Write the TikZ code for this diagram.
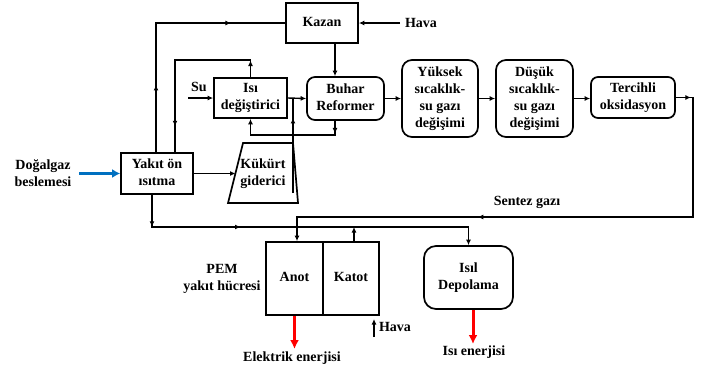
\documentclass[tikz,border=0pt]{standalone}
\usepackage{fontspec}
\setmainfont{Liberation Serif}
\usetikzlibrary{arrows.meta,decorations.markings,calc}
% stacked, centred lines of a label, lowered a little onto the optical centre
\newcommand\cellstack[1]{\raisebox{-2.7pt}{\begin{tabular}{@{}c@{}}#1\end{tabular}}}
\begin{document}
\begin{tikzpicture}[x=1pt,y=-1pt,
  >={Latex[length=5.5pt,width=5pt]},
  txt/.style={font=\bfseries\fontsize{14}{17}\selectfont, align=center, inner sep=0pt},
  box/.style 2 args={txt, draw, line width=1.7pt, minimum width=#1, minimum height=#2},
  rbox/.style n args={3}{box={#1}{#2}, rounded corners=#3},
  ln/.style={line width=1.4pt},
  flow/.style={ln, ->},
  mk/.style={postaction={decorate}, decoration={markings, mark=at position #1 with {\arrow{>}}}},
  mkk/.style 2 args={postaction={decorate}, decoration={markings,
      mark=at position #1 with {\arrow{>}}, mark=at position #2 with {\arrow{>}}}},
  feed/.style={line width=3pt, draw={rgb,255:red,0;green,112;blue,192},
      -{Latex[length=8pt,width=9pt]}},
  energy/.style={line width=3pt, draw=red, -{Latex[length=9pt,width=9pt]}},
]
\useasboundingbox (0,0) rectangle (713,376);

% --- process units ---
\node[box={72}{40}] (kazan) at (322,23) {\cellstack{Kazan}};
\node[box={73}{40}] (isi) at (250.5,98) {\cellstack{Isı\\değiştirici}};
\node[rbox={77}{43}{8pt}] (buhar) at (345.5,98.5) {\cellstack{Buhar\\Reformer}};
\node[rbox={76}{77}{10pt}] (yuksek) at (440,98.5) {\cellstack{Yüksek\\sıcaklık-\\su gazı\\değişimi}};
\node[rbox={77}{77}{10pt}] (dusuk) at (534.5,98.5) {\cellstack{Düşük\\sıcaklık-\\su gazı\\değişimi}};
\node[rbox={84}{41}{7pt}] (terc) at (633,97.5) {\cellstack{Tercihli\\oksidasyon}};
\node[box={72}{41}] (yakit) at (157,173.5) {\cellstack{Yakıt ön\\ısıtma}};
\draw[line width=1.7pt] (243,143) -- (293,143) -- (298,203) -- (228,203) -- cycle;
\node[txt] (kuk) at (263,173.5) {\cellstack{Kükürt\\giderici}};
\node[box={57}{73}] (anot) at (294.5,278.5) {\cellstack{Anot}};
\node[box={56}{73}] (katot) at (351,278.5) {\cellstack{Katot}};
\node[rbox={89}{63}{12pt}] (isil) at (468.5,277.5) {\cellstack{Isıl\\Depolama}};

% --- labels ---
\node[txt] (dogal) at (43,174.5) {\cellstack{Doğalgaz\\beslemesi}};
\node[txt] (su) at (199,88) {\cellstack{Su}};
\node[txt] (hava1) at (421,24) {\cellstack{Hava}};
\node[txt] (hava2) at (395,328) {\cellstack{Hava}};
\node[txt] (sentez) at (527,202) {\cellstack{Sentez gazı}};
\node[txt] (pem) at (222,278.5) {\cellstack{PEM\\yakıt hücresi}};
\node[txt] (elek) at (292,358) {\cellstack{Elektrik enerjisi}};
\node[txt] (isien) at (474,352) {\cellstack{Isı enerjisi}};

% --- helper points ---
\coordinate (hv0) at (400,23);
\coordinate (kzout) at ([xshift=13pt]kazan.south);
\coordinate (yk1) at ([xshift=-1pt]yakit.north);
\coordinate (lpA) at (175,60);
\coordinate (su0) at (188,98);
\coordinate (kukout) at (293,193);
\coordinate (bfout) at ([xshift=-10.5pt]buhar.south);
\coordinate (lpB) at (335,135);
\coordinate (kukin) at (235.5,173.5);
\coordinate (dg0) at (79,173.5);
\coordinate (yk2) at ([xshift=-5pt]yakit.south);
\coordinate (lpC) at (152,227);
\coordinate (kt1) at ([xshift=3pt]katot.north);
\coordinate (sg1) at (693,97.5);
\coordinate (sg2) at (693,217);
\coordinate (sg3) at (297,217);
\coordinate (el0) at (294.5,349);
\coordinate (is1) at ([xshift=4.5pt]isil.south);
\coordinate (is2) at (473,344);
\coordinate (hb0) at (374,337);
\coordinate (hb1) at (374,319);

% --- connectors ---
\draw[flow] (hv0) -- (kazan.east);
\draw[ln, mkk={0.26}{0.79}] (yk1) |- (kazan.west);
\draw[flow] (kzout) -- (kzout |- buhar.north);
\draw[ln, mkk={0.09}{0.86}] (isi.north) |- (lpA) -- (lpA |- yakit.north);
\draw[flow] (su0) -- (isi.west);
\draw[flow] (isi.east) -- (buhar.west);
\draw[ln, mk={0.79}] (kukout) -- (kukout |- isi.east);
\draw[flow, mk={0.11}] (bfout) -- (lpB) -| (isi.south);
\draw[flow] (buhar.east) -- (yuksek.west);
\draw[flow] (yuksek.east) -- (dusuk.west);
\draw[flow] (dusuk.east) -- (dusuk.east -| terc.west);
\draw[feed] (dg0) -- (yakit.west);
\draw[flow] (yakit.east) -- (kukin);
\draw[flow, mkk={0.087}{0.329}] (yk2) -- (lpC) -| (isil.north);
\draw[flow] (kt1) -- (kt1 |- lpC);
\draw[flow, mkk={0.027}{0.632}] (terc.east) -- (sg1) -- (sg2) -- (sg3) -- (sg3 |- anot.north);
\draw[flow] (hb0) -- (hb1);
\draw[energy] (anot.south) -- (el0);
\draw[energy] (is1) -- (is2);
\end{tikzpicture}
\end{document}
